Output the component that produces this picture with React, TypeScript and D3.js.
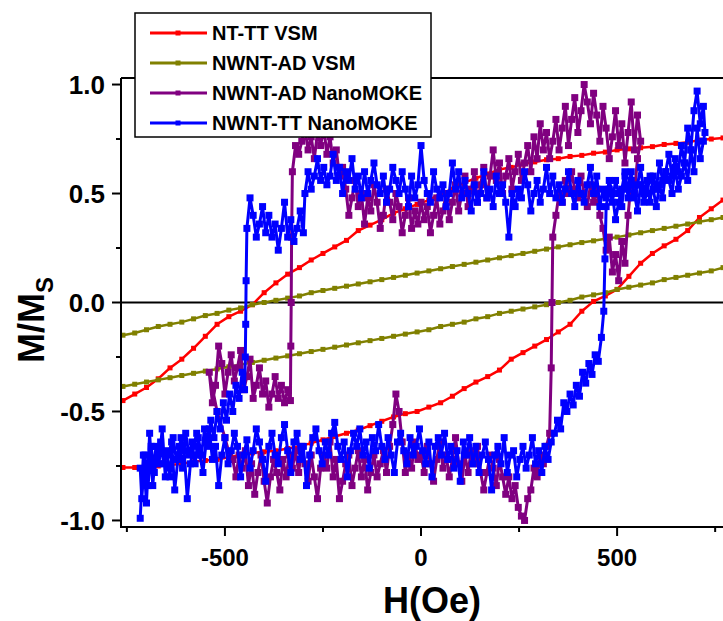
import React from "react";
import * as d3 from "d3";

const W = 723;
const H = 621;
const plot = { left: 121, top: 78, right: 723, bottom: 527 };

// VSM field grid (Oe), shared by both VSM loops
const vsmField = [-760, -730, -700, -670, -640, -610, -580, -550, -520, -490, -460, -430, -400, -370, -340, -310, -280, -250, -220, -190, -160, -130, -100, -70, -40, -10, 20, 50, 80, 110, 140, 170, 200, 230, 260, 290, 320, 350, 380, 410, 440, 470, 500, 530, 560, 590, 620, 650, 680, 710, 740, 770];

// NT-TT VSM, descending (upper) and ascending (lower) branch
const ntTtUpper = [-0.45, -0.42, -0.39, -0.35, -0.3, -0.26, -0.21, -0.155, -0.1, -0.065, -0.04, -0.01, 0.045, 0.09, 0.13, 0.16, 0.195, 0.225, 0.255, 0.285, 0.33, 0.355, 0.38, 0.41, 0.43, 0.45, 0.47, 0.5, 0.52, 0.55, 0.57, 0.59, 0.61, 0.62, 0.635, 0.645, 0.655, 0.66, 0.67, 0.675, 0.685, 0.69, 0.7, 0.705, 0.71, 0.715, 0.725, 0.73, 0.735, 0.745, 0.75, 0.755];
const ntTtLower = [-0.757, -0.757, -0.755, -0.75, -0.745, -0.74, -0.73, -0.725, -0.72, -0.71, -0.7, -0.69, -0.685, -0.68, -0.67, -0.66, -0.645, -0.63, -0.615, -0.6, -0.585, -0.565, -0.545, -0.525, -0.51, -0.5, -0.48, -0.46, -0.43, -0.395, -0.365, -0.34, -0.31, -0.26, -0.23, -0.2, -0.17, -0.135, -0.1, -0.04, 0.005, 0.03, 0.06, 0.12, 0.18, 0.225, 0.26, 0.29, 0.33, 0.39, 0.43, 0.47];

// NWNT-AD VSM
const adVsmUpper = [-0.15, -0.14, -0.125, -0.11, -0.1, -0.09, -0.075, -0.06, -0.05, -0.035, -0.025, -0.01, 0.0, 0.01, 0.02, 0.03, 0.045, 0.055, 0.065, 0.075, 0.085, 0.095, 0.105, 0.115, 0.125, 0.135, 0.145, 0.155, 0.165, 0.175, 0.185, 0.195, 0.205, 0.215, 0.225, 0.235, 0.245, 0.255, 0.265, 0.275, 0.283, 0.292, 0.3, 0.31, 0.32, 0.33, 0.34, 0.35, 0.36, 0.37, 0.38, 0.39];
const adVsmLower = [-0.385, -0.375, -0.365, -0.355, -0.345, -0.335, -0.325, -0.315, -0.305, -0.295, -0.285, -0.275, -0.265, -0.255, -0.245, -0.235, -0.225, -0.215, -0.205, -0.195, -0.185, -0.175, -0.165, -0.155, -0.145, -0.135, -0.125, -0.11, -0.1, -0.09, -0.075, -0.065, -0.05, -0.04, -0.03, -0.02, -0.01, 0.0, 0.01, 0.025, 0.035, 0.045, 0.06, 0.07, 0.08, 0.09, 0.105, 0.115, 0.125, 0.135, 0.145, 0.16];

// NWNT-AD NanoMOKE loop, [H, M] in measurement order
const adMoke: [number, number][] = [
  [-480, -0.72], [-472, -0.8], [-464, -0.7], [-456, -0.76], [-448, -0.68], [-440, -0.84], [-432, -0.74], [-424, -0.88], [-416, -0.78], [-408, -0.7],
  [-400, -0.82], [-392, -0.92], [-384, -0.8], [-376, -0.72], [-368, -0.78], [-360, -0.86], [-352, -0.72], [-344, -0.8], [-336, -0.7], [-328, -0.76],
  [-320, -0.68], [-312, -0.78], [-304, -0.66], [-296, -0.74], [-288, -0.82], [-280, -0.7], [-272, -0.8], [-264, -0.9], [-256, -0.76], [-248, -0.7],
  [-240, -0.76], [-232, -0.64], [-224, -0.8], [-216, -0.72], [-208, -0.9], [-200, -0.82], [-192, -0.74], [-184, -0.7], [-176, -0.84], [-168, -0.76],
  [-160, -0.68], [-152, -0.8], [-144, -0.72], [-136, -0.86], [-128, -0.78], [-120, -0.7], [-112, -0.8], [-104, -0.74], [-96, -0.68], [-88, -0.78],
  [-80, -0.66], [-72, -0.56], [-64, -0.42], [-56, -0.5], [-48, -0.64], [-40, -0.78], [-32, -0.7], [-24, -0.76], [-16, -0.64], [-8, -0.72],
  [0, -0.7], [8, -0.78], [16, -0.66], [24, -0.74], [32, -0.82], [40, -0.72], [48, -0.64], [56, -0.76], [64, -0.7], [72, -0.8],
  [80, -0.72], [88, -0.62], [96, -0.74], [104, -0.82], [112, -0.7], [120, -0.78], [128, -0.68], [136, -0.74], [144, -0.66], [152, -0.78],
  [160, -0.86], [168, -0.78], [176, -0.7], [184, -0.76], [192, -0.84], [200, -0.72], [208, -0.8], [216, -0.88], [224, -0.8], [232, -0.9],
  [240, -0.84], [248, -0.94], [256, -0.98], [264, -1.0], [272, -0.9], [280, -0.86], [288, -0.76], [296, -0.8], [304, -0.7], [312, -0.74],
  [320, -0.66], [328, -0.6],
  [332, -0.3], [334, 0.0], [336, 0.3],
  [344, 0.4], [352, 0.5], [360, 0.46], [368, 0.56], [376, 0.5], [384, 0.6], [392, 0.52], [400, 0.48], [408, 0.58], [416, 0.5],
  [424, 0.44], [432, 0.54], [440, 0.46], [448, 0.52], [456, 0.4], [464, 0.34], [472, 0.24], [480, 0.3], [488, 0.14], [496, 0.22],
  [504, 0.1], [512, 0.28], [520, 0.18], [528, 0.4], [536, 0.56], [544, 0.5], [552, 0.66], [560, 0.74],
  [552, 0.86], [544, 0.7], [536, 0.92], [528, 0.78], [520, 0.64], [512, 0.82], [504, 0.72], [496, 0.88], [488, 0.76], [480, 0.66],
  [472, 0.8], [464, 0.9], [456, 0.74], [448, 0.86], [440, 0.96], [432, 0.82], [424, 0.92], [416, 1.0], [408, 0.88], [400, 0.78],
  [392, 0.94], [384, 0.84], [376, 0.72], [368, 0.9], [360, 0.8], [352, 0.7], [344, 0.84], [336, 0.74], [328, 0.66], [320, 0.78],
  [312, 0.7], [304, 0.82], [296, 0.66], [288, 0.76], [280, 0.6], [272, 0.72], [264, 0.64], [256, 0.56], [248, 0.68], [240, 0.6],
  [232, 0.52], [224, 0.66], [216, 0.58], [208, 0.5], [200, 0.64], [192, 0.56], [184, 0.7], [176, 0.58], [168, 0.48], [160, 0.62],
  [152, 0.54], [144, 0.46], [136, 0.6], [128, 0.52], [120, 0.44], [112, 0.58], [104, 0.5], [96, 0.42], [88, 0.54], [80, 0.46],
  [72, 0.38], [64, 0.5], [56, 0.42], [48, 0.36], [40, 0.48], [32, 0.4], [24, 0.32], [16, 0.44], [8, 0.38], [0, 0.46],
  [-8, 0.36], [-16, 0.42], [-24, 0.34], [-32, 0.48], [-40, 0.4], [-48, 0.32], [-56, 0.44], [-64, 0.5], [-72, 0.38], [-80, 0.46],
  [-88, 0.52], [-96, 0.4], [-104, 0.34], [-112, 0.46], [-120, 0.54], [-128, 0.42], [-136, 0.48], [-144, 0.36], [-152, 0.5], [-160, 0.44],
  [-168, 0.56], [-176, 0.48], [-184, 0.4], [-192, 0.52], [-200, 0.62], [-208, 0.58], [-216, 0.7], [-224, 0.64], [-232, 0.76], [-240, 0.68],
  [-248, 0.8], [-256, 0.72], [-264, 0.78], [-272, 0.66], [-280, 0.76], [-288, 0.7], [-296, 0.8], [-304, 0.74], [-312, 0.68], [-320, 0.72],
  [-328, 0.6],
  [-330, 0.3], [-331, 0.0], [-332, -0.2], [-333, -0.45],
  [-340, -0.4], [-348, -0.46], [-356, -0.38], [-364, -0.44], [-372, -0.34], [-380, -0.42], [-388, -0.48], [-396, -0.36], [-404, -0.42], [-412, -0.3],
  [-420, -0.38], [-428, -0.44], [-436, -0.26], [-444, -0.34], [-452, -0.4], [-460, -0.22], [-468, -0.3], [-476, -0.36], [-484, -0.24], [-492, -0.32],
  [-500, -0.42], [-508, -0.28], [-516, -0.2], [-524, -0.38], [-532, -0.46], [-540, -0.32],
  [-520, -0.5], [-500, -0.62], [-488, -0.7], [-480, -0.72],
];

// NWNT-TT NanoMOKE loop, [H, M] in measurement order
const ttMoke: [number, number][] = [
  [-716, -0.99], [-708, -0.7], [-700, -0.92], [-692, -0.6], [-684, -0.84], [-676, -0.66], [-668, -0.74], [-660, -0.58], [-652, -0.8], [-644, -0.7],
  [-636, -0.64], [-628, -0.86], [-620, -0.72], [-612, -0.62], [-604, -0.68], [-596, -0.9], [-588, -0.74], [-580, -0.66], [-572, -0.6], [-564, -0.7],
  [-556, -0.78], [-548, -0.64], [-540, -0.58], [-532, -0.72], [-524, -0.66], [-516, -0.84], [-508, -0.7], [-500, -0.62], [-492, -0.74], [-484, -0.68],
  [-476, -0.6], [-468, -0.66], [-460, -0.8], [-452, -0.7], [-444, -0.63], [-436, -0.76], [-428, -0.68], [-420, -0.58], [-412, -0.64], [-404, -0.72],
  [-396, -0.82], [-388, -0.66], [-380, -0.6], [-372, -0.7], [-364, -0.74], [-356, -0.62], [-348, -0.56], [-340, -0.68], [-332, -0.78], [-324, -0.64],
  [-316, -0.6], [-308, -0.72], [-300, -0.66], [-292, -0.84], [-284, -0.7], [-276, -0.62], [-268, -0.58], [-260, -0.68], [-252, -0.74], [-244, -0.64],
  [-236, -0.7], [-228, -0.6], [-220, -0.55], [-212, -0.66], [-204, -0.72], [-196, -0.64], [-188, -0.8], [-180, -0.68], [-172, -0.6], [-164, -0.66],
  [-156, -0.58], [-148, -0.7], [-140, -0.64], [-132, -0.76], [-124, -0.62], [-116, -0.68], [-108, -0.56], [-100, -0.66], [-92, -0.72], [-84, -0.62],
  [-76, -0.7], [-68, -0.78], [-60, -0.64], [-52, -0.6], [-44, -0.68], [-36, -0.74], [-28, -0.62], [-20, -0.7], [-12, -0.66], [-4, -0.58],
  [4, -0.68], [12, -0.74], [20, -0.64], [28, -0.8], [36, -0.66], [44, -0.62], [52, -0.7], [60, -0.6], [68, -0.72], [76, -0.66],
  [84, -0.76], [92, -0.68], [100, -0.82], [108, -0.64], [116, -0.7], [124, -0.62], [132, -0.74], [140, -0.66], [148, -0.78], [156, -0.7],
  [164, -0.64], [172, -0.72], [180, -0.86], [188, -0.7], [196, -0.66], [204, -0.74], [212, -0.62], [220, -0.78], [228, -0.7], [236, -0.68],
  [244, -0.8], [252, -0.72], [260, -0.66], [268, -0.76], [276, -0.7], [284, -0.62], [292, -0.74], [300, -0.68], [308, -0.78], [316, -0.66],
  [324, -0.72], [332, -0.64],
  [340, -0.6], [348, -0.54], [356, -0.58], [364, -0.46], [372, -0.5], [380, -0.42], [388, -0.47], [396, -0.38], [404, -0.43], [412, -0.32],
  [420, -0.37], [428, -0.28], [436, -0.33], [444, -0.24], [452, -0.27], [460, -0.16], [466, -0.04], [469, 0.2], [472, 0.44],
  [480, 0.52], [488, 0.46], [496, 0.56], [504, 0.5], [512, 0.44], [520, 0.58], [528, 0.52], [536, 0.6], [544, 0.48], [552, 0.54],
  [560, 0.62], [568, 0.5], [576, 0.56], [584, 0.46], [592, 0.58], [600, 0.52], [608, 0.64], [616, 0.56], [624, 0.6], [632, 0.68],
  [640, 0.58], [648, 0.66], [656, 0.6], [664, 0.72], [672, 0.64], [680, 0.8], [688, 0.7], [696, 0.88], [704, 0.97], [712, 0.82],
  [720, 0.9], [724, 0.78],
  [720, 0.74], [712, 0.66], [704, 0.8], [696, 0.6], [688, 0.7], [680, 0.56], [672, 0.64], [664, 0.58], [656, 0.52], [648, 0.62],
  [640, 0.5], [632, 0.56], [624, 0.6], [616, 0.48], [608, 0.54], [600, 0.44], [592, 0.52], [584, 0.58], [576, 0.5], [568, 0.46],
  [560, 0.54], [552, 0.42], [544, 0.5], [536, 0.56], [528, 0.48], [520, 0.6], [512, 0.52], [504, 0.46], [496, 0.38], [488, 0.5],
  [480, 0.56], [472, 0.48], [464, 0.52], [456, 0.44], [448, 0.58], [440, 0.5], [432, 0.62], [424, 0.54], [416, 0.46], [408, 0.5],
  [400, 0.56], [392, 0.44], [384, 0.5], [376, 0.6], [368, 0.52], [360, 0.46], [352, 0.54], [344, 0.48], [336, 0.58], [328, 0.5],
  [320, 0.62], [312, 0.52], [304, 0.46], [296, 0.56], [288, 0.5], [280, 0.42], [272, 0.54], [264, 0.6], [256, 0.48], [248, 0.52],
  [240, 0.44], [232, 0.5], [224, 0.3], [216, 0.46], [208, 0.54], [200, 0.5], [192, 0.58], [184, 0.44], [176, 0.52], [168, 0.48],
  [160, 0.6], [152, 0.5], [144, 0.46], [136, 0.54], [128, 0.42], [120, 0.5], [112, 0.56], [104, 0.48], [96, 0.6], [88, 0.52],
  [80, 0.64], [72, 0.5], [64, 0.44], [56, 0.54], [48, 0.48], [40, 0.52], [32, 0.6], [24, 0.46], [16, 0.5], [8, 0.56],
  [0, 0.72], [-8, 0.54], [-16, 0.48], [-24, 0.58], [-32, 0.44], [-40, 0.52], [-48, 0.6], [-56, 0.5], [-64, 0.56], [-72, 0.62],
  [-80, 0.52], [-88, 0.46], [-96, 0.58], [-104, 0.5], [-112, 0.54], [-120, 0.64], [-128, 0.56], [-136, 0.5], [-144, 0.6], [-152, 0.48],
  [-160, 0.58], [-168, 0.52], [-176, 0.66], [-184, 0.56], [-192, 0.6], [-200, 0.5], [-208, 0.62], [-216, 0.56], [-224, 0.68], [-232, 0.58],
  [-240, 0.54], [-248, 0.62], [-256, 0.56], [-264, 0.66], [-272, 0.58], [-280, 0.52], [-288, 0.6], [-296, 0.5],
  [-300, 0.32], [-308, 0.42], [-316, 0.34], [-324, 0.28], [-332, 0.38], [-340, 0.3], [-348, 0.46], [-356, 0.34], [-364, 0.24], [-372, 0.36],
  [-380, 0.3], [-388, 0.4], [-396, 0.32], [-404, 0.44], [-412, 0.36], [-420, 0.3], [-428, 0.4], [-436, 0.48], [-444, 0.34],
  [-446, 0.1], [-447, -0.1], [-448, -0.25], [-450, -0.4],
  [-456, -0.32], [-464, -0.44], [-472, -0.38], [-480, -0.5], [-488, -0.42], [-496, -0.54], [-504, -0.46], [-512, -0.58], [-520, -0.5], [-528, -0.62],
  [-536, -0.54], [-544, -0.66], [-552, -0.58], [-560, -0.7], [-568, -0.62], [-576, -0.74], [-584, -0.64], [-592, -0.7], [-600, -0.6], [-608, -0.76],
  [-616, -0.66], [-624, -0.72], [-632, -0.62], [-640, -0.8], [-648, -0.68], [-656, -0.74], [-664, -0.64], [-672, -0.7], [-680, -0.78], [-688, -0.66],
  [-696, -0.84], [-704, -0.7], [-712, -0.9], [-716, -0.76],
];

const legendNames = ["NT-TT VSM", "NWNT-AD VSM", "NWNT-AD NanoMOKE", "NWNT-TT NanoMOKE"];
const colors = ["#ff0000", "#808000", "#800080", "#0000ff"];

const yMajor = [-1, -0.5, 0, 0.5, 1];
const yMinor = [-0.75, -0.25, 0.25, 0.75];
const xMajor = [-500, 0, 500];
const xMinor = [-750, -250, 250, 750];

const font = "'Liberation Sans', Arial, sans-serif";

function branch(field: number[], m: number[]): [number, number][] {
  return field.map((h, i) => [h, m[i]] as [number, number]);
}

export default function App() {
  const x = d3.scaleLinear().domain([-765, 770]).range([plot.left, plot.right]);
  const y = d3.scaleLinear().domain([-1.03, 1.03]).range([plot.bottom, plot.top]);
  const line = d3.line<[number, number]>().x((d) => x(d[0])).y((d) => y(d[1]));

  // each series: list of separately drawn paths
  const series = [
    { paths: [branch(vsmField, ntTtUpper), branch(vsmField, ntTtLower)], color: colors[0], size: 5, width: 2.5 },
    { paths: [branch(vsmField, adVsmUpper), branch(vsmField, adVsmLower)], color: colors[1], size: 5, width: 2.5 },
    { paths: [adMoke], color: colors[2], size: 7, width: 3 },
    { paths: [ttMoke], color: colors[3], size: 7, width: 3 },
  ];

  const fmt = (t: number) => d3.format(".1f")(t).replace("\u2212", "-");

  return (
    <svg width={W} height={H} style={{ position: "absolute", left: 0, top: 0, background: "#fff" }} fontFamily={font}>
      <defs>
        <clipPath id="plotClip">
          <rect x={plot.left} y={plot.top} width={plot.right - plot.left} height={plot.bottom - plot.top} />
        </clipPath>
      </defs>
      <rect x={0} y={0} width={W} height={H} fill="#fff" />

      {/* zero line and top frame */}
      <line x1={plot.left} x2={plot.right} y1={y(0)} y2={y(0)} stroke="#000" strokeWidth={2} />
      <line x1={plot.left} x2={plot.right} y1={plot.top} y2={plot.top} stroke="#000" strokeWidth={2} />

      <g clipPath="url(#plotClip)">
        {series.map((s, i) => (
          <g key={i}>
            {s.paths.map((pts, k) => (
              <g key={k}>
                <path d={line(pts) || ""} fill="none" stroke={s.color} strokeWidth={s.width} strokeLinejoin="round" />
                {pts.map((p, j) => (
                  <rect key={j} x={x(p[0]) - s.size / 2} y={y(p[1]) - s.size / 2} width={s.size} height={s.size} fill={s.color} />
                ))}
              </g>
            ))}
          </g>
        ))}
      </g>

      {/* axes */}
      <line x1={plot.left} x2={plot.left} y1={plot.top} y2={plot.bottom} stroke="#000" strokeWidth={2} />
      <line x1={plot.left - 1} x2={plot.right} y1={plot.bottom} y2={plot.bottom} stroke="#000" strokeWidth={2} />
      {yMajor.map((t) => (
        <g key={t}>
          <line x1={plot.left - 9} x2={plot.left} y1={y(t)} y2={y(t)} stroke="#000" strokeWidth={2} />
          <text x={plot.left - 16} y={y(t)} dy="0.36em" textAnchor="end" fontSize={26} fontWeight="bold">
            {fmt(t)}
          </text>
        </g>
      ))}
      {yMinor.map((t) => (
        <line key={t} x1={plot.left - 5} x2={plot.left} y1={y(t)} y2={y(t)} stroke="#000" strokeWidth={2} />
      ))}
      {xMajor.map((t) => (
        <g key={t}>
          <line x1={x(t)} x2={x(t)} y1={plot.bottom} y2={plot.bottom + 9} stroke="#000" strokeWidth={2} />
          <text x={x(t)} y={plot.bottom + 39} textAnchor="middle" fontSize={24} fontWeight="bold">
            {t}
          </text>
        </g>
      ))}
      {xMinor.map((t) => (
        <line key={t} x1={x(t)} x2={x(t)} y1={plot.bottom} y2={plot.bottom + 5} stroke="#000" strokeWidth={2} />
      ))}

      {/* axis titles */}
      <text x={432} y={613} textAnchor="middle" fontSize={36} fontWeight="bold">H(Oe)</text>
      <text transform="translate(44,320) rotate(-90)" textAnchor="middle" fontSize={36} fontWeight="bold">
        M/M<tspan fontSize={24} dy={9}>S</tspan>
      </text>

      {/* legend */}
      <rect x={135} y={13} width={296} height={124} fill="#fff" stroke="#000" strokeWidth={1.5} />
      {legendNames.map((name, i) => {
        const cy = 33 + i * 30;
        return (
          <g key={name}>
            <line x1={150} x2={207} y1={cy} y2={cy} stroke={colors[i]} strokeWidth={3} />
            <rect x={175.5} y={cy - 2.5} width={5} height={5} fill={colors[i]} />
            <text x={212} y={cy} dy="0.36em" fontSize={20} fontWeight="bold">{name}</text>
          </g>
        );
      })}
    </svg>
  );
}
